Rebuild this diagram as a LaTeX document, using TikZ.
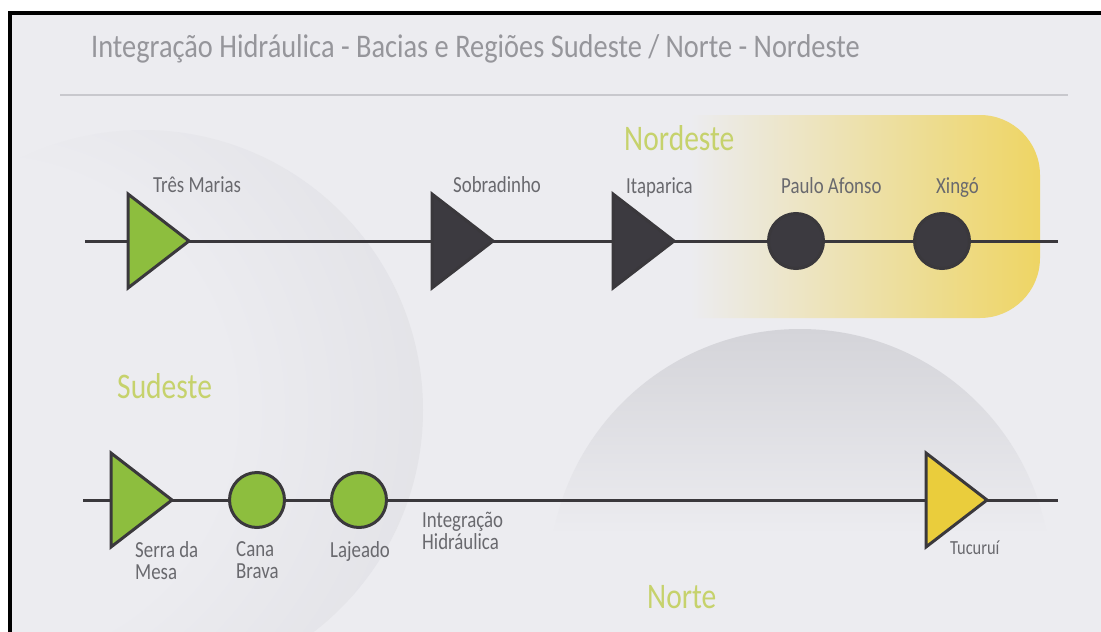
\documentclass[tikz,border=0pt]{standalone}
\usepackage{fontspec}
\setmainfont[FakeStretch=0.82]{Carlito}
\newfontfamily\titlefont[FakeStretch=0.86]{Carlito}
\definecolor{bgc}{RGB}{236,236,240}
\definecolor{linec}{RGB}{58,56,60}
\definecolor{darkfill}{RGB}{60,58,64}
\definecolor{greenfill}{RGB}{141,190,62}
\definecolor{yellowfill}{RGB}{234,205,60}
\definecolor{labelc}{RGB}{105,105,110}
\definecolor{titlec}{RGB}{150,150,155}
\definecolor{regionc}{RGB}{198,210,108}
\definecolor{rulec}{RGB}{200,200,205}
\definecolor{diskmid}{RGB}{222,222,227}
\definecolor{diskdark}{RGB}{194,194,200}
\definecolor{nortec}{RGB}{212,212,217}
\definecolor{paleyellow}{RGB}{243,234,180}
\definecolor{nordy}{RGB}{238,213,100}
\pgfdeclareradialshading{sudesteshade}{\pgfpoint{-20bp}{0bp}}{%
  color(0bp)=(bgc); color(22bp)=(bgc); color(45bp)=(diskmid);
  color(62bp)=(diskdark); color(80bp)=(diskdark)}
\pgfdeclarelayer{back}
\pgfsetlayers{back,main}
\tikzset{damtri/.pic={\filldraw[fill=#1,draw=linec,line width=3pt,line join=miter]
  (0,-47) -- (61,0) -- (0,47) -- cycle;}}
\begin{document}
\begin{tikzpicture}[x=1pt,y=-1pt,
  flow/.style={draw=linec,line width=3pt},
  dam/.style={circle,inner sep=0pt,minimum size=55pt,draw=linec,line width=3pt},
  lbl/.style={text=labelc,font=\fontsize{23}{22}\selectfont,inner sep=0pt,align=left},
  small/.style={text=labelc,font=\fontsize{20}{20}\selectfont,inner sep=0pt},
  region/.style={text=regionc,font=\fontsize{36}{40}\selectfont,inner sep=0pt}]
\useasboundingbox (0,0) rectangle (1101,632);

% ---- named positions on the two lines
\coordinate (s1) at (85,241);
\coordinate (tm) at (128,241);
\coordinate (sob) at (432,241);
\coordinate (ita) at (613,241);
\coordinate (e1) at (1058,241);
\coordinate (s2) at (83,500);
\coordinate (sm) at (111,500);
\coordinate (tu) at (926,500);
\coordinate (e2) at (1058,500);

% ---- dams (foreground)
\pic at (tm) {damtri=greenfill};
\pic at (sob) {damtri=darkfill};
\pic at (ita) {damtri=darkfill};
\node[dam,fill=darkfill] (pa) at (796,241) {};
\node[dam,fill=darkfill] (xi) at (942,241) {};
\pic at (sm) {damtri=greenfill};
\node[dam,fill=greenfill] (cb) at (257,500) {};
\node[dam,fill=greenfill] (lj) at (359,500) {};
\pic at (tu) {damtri=yellowfill};

% ---- texts
\node[anchor=base west,text=titlec,font=\titlefont\fontsize{33}{36}\selectfont,inner sep=0pt] (title) at (91,57)
  {Integração Hidráulica - Bacias e Regiões Sudeste / Norte - Nordeste};
\node[region,anchor=base west] (nordeste) at (624,150) {Nordeste};
\node[region,anchor=base west] (sudeste) at (117,398) {Sudeste};
\node[region,anchor=base west] (norte) at (647,608) {Norte};

\node[lbl,anchor=base west] (ltm) at (153,192) {Três Marias};
\node[lbl,anchor=base west] (lsob) at (453,192) {Sobradinho};
\node[lbl,anchor=base west] (lita) at (626,193) {Itaparica};
\node[lbl,anchor=base west] (lpa) at (781,193) {Paulo Afonso};
\node[lbl,anchor=base west] (lxi) at (936,193) {Xingó};
\node[lbl,anchor=north west] (lsm) at (135,541) {Serra da\\Mesa};
\node[lbl,anchor=north west] (lcb) at (236,541) {Cana\\Brava};
\node[lbl,anchor=north west] (llj) at (330,541) {Lajeado};
\node[lbl,anchor=north west] (lih) at (422,512) {Integração\\Hidráulica};
\node[small,anchor=base west] (ltu) at (950,554) {Tucuruí};

% ---- background and connectors
\begin{pgfonlayer}{back}
  \fill[white] (0,0) rectangle (1101,632);
  \fill[bgc] (10,12) rectangle (1101,632);
  \begin{scope}
    \clip (10,12) rectangle (1101,632);
    \shade[shading=sudesteshade] (143,410) circle[radius=280];
    \begin{scope}
      \clip (800,580) circle[radius=251];
      \shade[top color=nortec,bottom color=bgc] (548,329) rectangle (1052,535);
      \fill[bgc] (548,534) rectangle (1052,632);
    \end{scope}
    \shade[left color=bgc,middle color=paleyellow,right color=nordy]
      (690,115) -- (980,115) arc[start angle=-90,end angle=0,radius=60]
      -- (1040,258) arc[start angle=0,end angle=90,radius=60] -- (690,318) -- cycle;
  \end{scope}
  \draw[line width=4pt] (10,632) -- (10,12.5) -- (1101,12.5);
  \draw[rulec,line width=1.5pt] (60,95) -- (1068,95);
  \draw[flow] (s1) -- (tm) -- (sob) -- (ita) -- (pa) -- (xi) -- (e1);
  \draw[flow] (s2) -- (sm) -- (cb) -- (lj) -- (tu) -- (e2);
\end{pgfonlayer}
\end{tikzpicture}
\end{document}
